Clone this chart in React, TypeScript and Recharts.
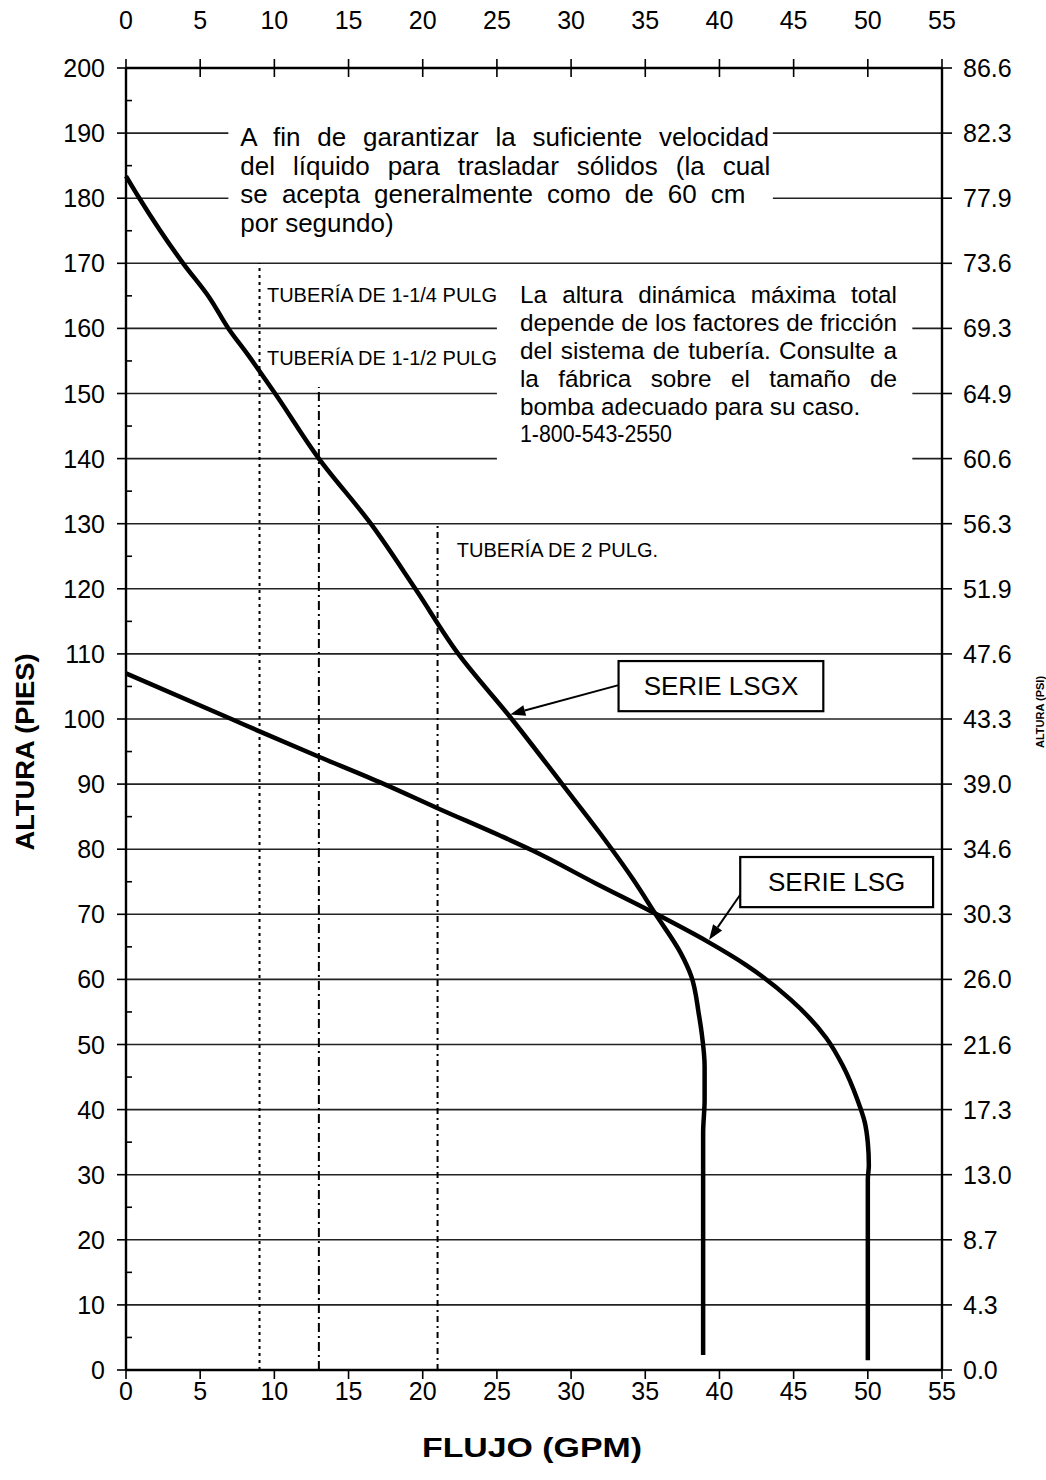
import {
  LineChart,
  Line,
  XAxis,
  YAxis,
  CartesianGrid,
  ReferenceLine,
  ReferenceArea,
  Customized,
} from "recharts"

// LSGX curve (GPM / feet)
const lsgxFlow = [0, 0.9, 3.85, 5.6, 6.9, 8.2, 10.05, 13, 16.5, 19.5, 22.4, 26, 29.4, 31.9, 34.2, 35.7, 37.4, 38.1, 38.6, 38.8, 39, 39, 38.9, 38.9, 38.9]
const lsgxHead = [183.4, 180, 170, 164.8, 160, 156, 150, 140, 130, 120, 110, 100, 90, 82.6, 75.3, 70, 64, 60.5, 54.8, 51.8, 46.6, 41.5, 36.4, 29.3, 2.3]

// LSG curve
const lsgFlow = [0, 7.1, 9, 13, 17.4, 21, 25.2, 27.4, 31.7, 35.6, 39.2, 41.8, 44.8, 47.2, 48.3, 49.3, 49.8, 50, 50.07, 50, 50]
const lsgHead = [107, 100, 98.1, 94.2, 90, 86.3, 82.1, 79.8, 74.7, 70.2, 65.8, 62.2, 56.9, 51, 46.8, 41.5, 38, 34.9, 31.4, 29.3, 1.5]

// axes
const flowTicks = [0, 5, 10, 15, 20, 25, 30, 35, 40, 45, 50, 55]
const headTicks = [0, 10, 20, 30, 40, 50, 60, 70, 80, 90, 100, 110, 120, 130, 140, 150, 160, 170, 180, 190, 200]
const headMinorTicks = [0, 5, 10, 15, 20, 25, 30, 35, 40, 45, 50, 55, 60, 65, 70, 75, 80, 85, 90, 95, 100, 105, 110, 115, 120, 125, 130, 135, 140, 145, 150, 155, 160, 165, 170, 175, 180, 185, 190, 195, 200]
const psiLabels = ["0.0", "4.3", "8.7", "13.0", "17.3", "21.6", "26.0", "30.3", "34.6", "39.0", "43.3", "47.6", "51.9", "56.3", "60.6", "64.9", "69.3", "73.6", "77.9", "82.3", "86.6"]

// pipe size limits: flow and top of the line (ft)
const pipeFlow = [9, 13, 21]
const pipeTop = [170, 151, 130]
const pipeNames = ["TUBERÍA DE 1-1/4 PULG", "TUBERÍA DE 1-1/2 PULG", "TUBERÍA DE 2 PULG."]

const noteVelocity = [
  "A fin de garantizar la suficiente velocidad",
  "del líquido para trasladar sólidos (la cual",
  "se acepta generalmente como de 60 cm",
  "por segundo)",
]
const noteHead = [
  "La altura dinámica máxima total",
  "depende de los factores de fricción",
  "del sistema de tubería. Consulte a",
  "la fábrica sobre el tamaño de",
  "bomba adecuado para su caso.",
  "1-800-543-2550",
]

const lsgxData = lsgxFlow.map((flow, i) => ({ flow, head: lsgxHead[i] }))
const lsgData = lsgFlow.map((flow, i) => ({ flow, head: lsgHead[i] }))

const FONT = "'Liberation Sans', Arial, Helvetica, sans-serif"

let measureCtx: CanvasRenderingContext2D | null = null
function textWidth(text: string, size: number) {
  if (!measureCtx) measureCtx = document.createElement("canvas").getContext("2d")
  if (!measureCtx) return text.length * size * 0.5
  measureCtx.font = `${size}px 'Liberation Sans', Arial, sans-serif`
  return measureCtx.measureText(text).width
}

// spread the extra room over the spaces, like justified text
function wordGap(text: string, target: number, size: number) {
  const spaces = text.split(" ").length - 1
  if (!target || !spaces) return 0
  return (target - textWidth(text, size)) / spaces
}

function LeftTick(props: any) {
  const { x, y, payload } = props
  if (payload.value % 10 !== 0) {
    return <line x1={x} x2={x + 6} y1={y} y2={y} stroke="#000" strokeWidth={1.6} />
  }
  return (
    <g>
      <line x1={x - 9} x2={x} y1={y} y2={y} stroke="#000" strokeWidth={1.6} />
      <text x={x - 21} y={y + 9} textAnchor="end" fontSize={25} fontFamily={FONT} fill="#000">
        {payload.value}
      </text>
    </g>
  )
}

function RightTick(props: any) {
  const { x, y, payload } = props
  return (
    <g>
      <line x1={x} x2={x + 10} y1={y} y2={y} stroke="#000" strokeWidth={1.6} />
      <text x={x + 21} y={y + 9} textAnchor="start" fontSize={25} fontFamily={FONT} fill="#000">
        {psiLabels[Math.round(payload.value / 10)]}
      </text>
    </g>
  )
}

function TopTick(props: any) {
  const { x, y, payload } = props
  return (
    <g>
      <line x1={x} x2={x} y1={y - 9} y2={y + 9} stroke="#000" strokeWidth={1.6} />
      <text x={x} y={y - 39} textAnchor="middle" fontSize={25} fontFamily={FONT} fill="#000">
        {payload.value}
      </text>
    </g>
  )
}

function BottomTick(props: any) {
  const { x, y, payload } = props
  return (
    <g>
      <line x1={x} x2={x} y1={y} y2={y + 9} stroke="#000" strokeWidth={1.6} />
      <text x={x} y={y + 30} textAnchor="middle" fontSize={25} fontFamily={FONT} fill="#000">
        {payload.value}
      </text>
    </g>
  )
}

function NoteBox(props: any) {
  const { x, y, width, height, lines, padLeft, firstBaseline, lineGap, widths, squeeze, size } = props
  return (
    <g>
      <rect x={x} y={y} width={width} height={height} fill="#fff" />
      {lines.map((t: string, i: number) => {
        const squeezed = squeeze === i
        return (
          <text
            key={i}
            x={x + padLeft}
            y={y + firstBaseline + i * lineGap}
            fontSize={size}
            fontFamily={FONT}
            fill="#000"
            wordSpacing={squeezed ? 0 : wordGap(t, widths[i], size)}
            textLength={squeezed ? widths[i] : undefined}
            lengthAdjust={squeezed ? "spacingAndGlyphs" : undefined}
          >
            {t}
          </text>
        )
      })}
    </g>
  )
}

function SeriesBox(props: any) {
  const { x, y, width, height, text } = props
  return (
    <g>
      <rect x={x} y={y} width={width} height={height} fill="#fff" stroke="#000" strokeWidth={2.2} />
      <text
        x={x + width / 2}
        y={y + height / 2 + 9}
        textAnchor="middle"
        fontSize={26}
        fontFamily={FONT}
        fill="#000"
      >
        {text}
      </text>
    </g>
  )
}

function Pointer(props: any) {
  const { x1, y1, x2, y2 } = props
  const a = Math.atan2(y2 - y1, x2 - x1)
  const len = 15
  const half = 5.5
  const bx = x2 - len * Math.cos(a)
  const by = y2 - len * Math.sin(a)
  const px = -Math.sin(a) * half
  const py = Math.cos(a) * half
  return (
    <g>
      <line x1={x1} y1={y1} x2={bx} y2={by} stroke="#000" strokeWidth={2} />
      <polygon points={`${x2},${y2} ${bx + px},${by + py} ${bx - px},${by - py}`} fill="#000" />
    </g>
  )
}

function PipeLabel(props: any) {
  const { x1, y1, text } = props
  return (
    <text x={x1} y={y1} fontSize={20} fontFamily={FONT} fill="#000">
      {text}
    </text>
  )
}

function Titles() {
  return (
    <g fontFamily={FONT} fontWeight="bold" fill="#000">
      <text x={532} y={1457} textAnchor="middle" fontSize={28} textLength={220} lengthAdjust="spacingAndGlyphs">
        FLUJO (GPM)
      </text>
      <text
        x={34}
        y={752}
        textAnchor="middle"
        fontSize={26}
        transform="rotate(-90 34 752)"
        textLength={197}
        lengthAdjust="spacingAndGlyphs"
      >
        ALTURA (PIES)
      </text>
      <text x={1044} y={712} textAnchor="middle" fontSize={11} transform="rotate(-90 1044 712)">
        ALTURA (PSI)
      </text>
    </g>
  )
}

export default function App() {
  return (
    <div style={{ position: "absolute", left: 0, top: 0, background: "#fff" }}>
      <LineChart width={1046} height={1480} margin={{ top: 28, right: 44, bottom: 70, left: 66 }}>
        <CartesianGrid
          xAxisId="bottom"
          yAxisId="right"
          vertical={false}
          stroke="#222"
          strokeWidth={1.6}
        />
        <XAxis
          xAxisId="bottom"
          dataKey="flow"
          type="number"
          domain={[0, 55]}
          ticks={flowTicks}
          interval={0}
          height={40}
          tickSize={0}
          tickMargin={0}
          tickLine={false}
          tick={BottomTick}
          axisLine={{ stroke: "#000", strokeWidth: 2.4 }}
        />
        <XAxis
          xAxisId="top"
          orientation="top"
          dataKey="flow"
          type="number"
          domain={[0, 55]}
          ticks={flowTicks}
          interval={0}
          height={40}
          tickSize={0}
          tickMargin={0}
          tickLine={false}
          tick={TopTick}
          axisLine={{ stroke: "#000", strokeWidth: 2.4 }}
        />
        <YAxis
          yAxisId="left"
          type="number"
          domain={[0, 200]}
          ticks={headMinorTicks}
          interval={0}
          width={60}
          tickSize={0}
          tickMargin={0}
          tickLine={false}
          tick={LeftTick}
          axisLine={{ stroke: "#000", strokeWidth: 2.4 }}
        />
        <YAxis
          yAxisId="right"
          orientation="right"
          type="number"
          domain={[0, 200]}
          ticks={headTicks}
          interval={0}
          width={60}
          tickSize={0}
          tickMargin={0}
          tickLine={false}
          tick={RightTick}
          axisLine={{ stroke: "#000", strokeWidth: 2.4 }}
        />

        <ReferenceArea
          xAxisId="bottom"
          yAxisId="left"
          x1={6.9}
          x2={43.6}
          y1={174}
          y2={192}
          shape={(p: any) => (
            <NoteBox
              {...p}
              lines={noteVelocity}
              size={26}
              padLeft={12}
              firstBaseline={26}
              lineGap={28.5}
              widths={[530, 530, 505, 0]}
            />
          )}
        />
        <ReferenceArea
          xAxisId="bottom"
          yAxisId="left"
          x1={25}
          x2={53}
          y1={136}
          y2={166}
          shape={(p: any) => (
            <NoteBox
              {...p}
              lines={noteHead}
              size={24.3}
              padLeft={23}
              firstBaseline={14}
              lineGap={27.8}
              widths={[377, 377, 377, 377, 0, 152]}
              squeeze={5}
            />
          )}
        />

        {pipeFlow.map((f, i) => (
          <ReferenceLine
            key={"pipe" + i}
            xAxisId="bottom"
            yAxisId="left"
            segment={[{ x: f, y: 0 }, { x: f, y: pipeTop[i] }]}
            stroke="#000"
            strokeWidth={2}
            strokeDasharray={i === 0 ? "3 4" : i === 1 ? "9 4 2 4" : "6 4 2 4"}
          />
        ))}

        <ReferenceLine
          xAxisId="bottom"
          yAxisId="left"
          segment={[{ x: 9.5, y: 164.05 }, { x: 25, y: 164.05 }]}
          stroke="none"
          shape={(p: any) => <PipeLabel {...p} text={pipeNames[0]} />}
        />
        <ReferenceLine
          xAxisId="bottom"
          yAxisId="left"
          segment={[{ x: 9.5, y: 154.4 }, { x: 25, y: 154.4 }]}
          stroke="none"
          shape={(p: any) => <PipeLabel {...p} text={pipeNames[1]} />}
        />
        <ReferenceLine
          xAxisId="bottom"
          yAxisId="left"
          segment={[{ x: 22.3, y: 124.9 }, { x: 35, y: 124.9 }]}
          stroke="none"
          shape={(p: any) => <PipeLabel {...p} text={pipeNames[2]} />}
        />

        {/* invisible copy so the top and right axes get a domain */}
        <Line
          data={lsgxData}
          xAxisId="top"
          yAxisId="right"
          dataKey="head"
          stroke="none"
          dot={false}
          activeDot={false}
          legendType="none"
          isAnimationActive={false}
        />
        <Line
          data={lsgxData}
          xAxisId="bottom"
          yAxisId="left"
          dataKey="head"
          type="monotoneY"
          stroke="#000"
          strokeWidth={4.5}
          strokeLinejoin="round"
          dot={false}
          activeDot={false}
          isAnimationActive={false}
        />
        <Line
          data={lsgData}
          xAxisId="bottom"
          yAxisId="left"
          dataKey="head"
          type="monotoneY"
          stroke="#000"
          strokeWidth={4.5}
          strokeLinejoin="round"
          dot={false}
          activeDot={false}
          isAnimationActive={false}
        />

        <ReferenceLine
          xAxisId="bottom"
          yAxisId="left"
          segment={[{ x: 33.2, y: 105.2 }, { x: 25.9, y: 100.7 }]}
          shape={Pointer}
        />
        <ReferenceLine
          xAxisId="bottom"
          yAxisId="left"
          segment={[{ x: 41.4, y: 73 }, { x: 39.3, y: 66.1 }]}
          shape={Pointer}
        />
        <ReferenceArea
          xAxisId="bottom"
          yAxisId="left"
          x1={33.2}
          x2={47}
          y1={101.2}
          y2={108.9}
          shape={(p: any) => <SeriesBox {...p} text="SERIE LSGX" />}
        />
        <ReferenceArea
          xAxisId="bottom"
          yAxisId="left"
          x1={41.4}
          x2={54.4}
          y1={71.1}
          y2={78.8}
          shape={(p: any) => <SeriesBox {...p} text="SERIE LSG" />}
        />

        <Customized component={Titles} />
      </LineChart>
    </div>
  )
}
